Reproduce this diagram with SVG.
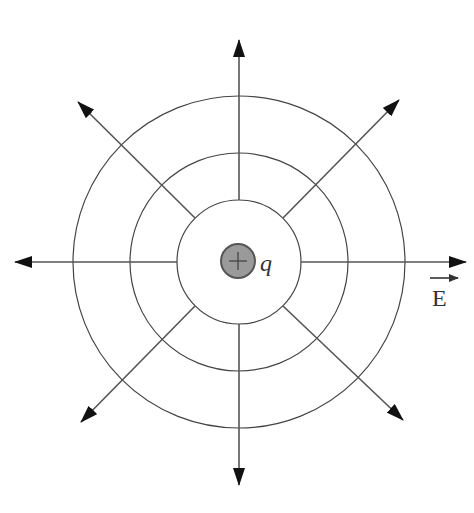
<svg xmlns="http://www.w3.org/2000/svg" width="474" height="513" viewBox="0 0 474 513">
<defs>
<marker id="ah" markerUnits="userSpaceOnUse" markerWidth="18" markerHeight="12" refX="17" refY="6" orient="auto">
<path d="M0,0 L18,6 L0,12 z" fill="#111"/>
</marker>
<marker id="sa" markerUnits="userSpaceOnUse" markerWidth="10" markerHeight="8" refX="9" refY="4" orient="auto">
<path d="M0,0 L10,4 L0,8 z" fill="#333"/>
</marker>
<style>
.ring{fill:none;stroke:#444;stroke-width:1.2}
.ray{stroke:#555;stroke-width:1.6;fill:none;marker-end:url(#ah)}
.lbl{font-family:"Liberation Serif",serif;fill:#333}
</style>
</defs>
<rect width="474" height="513" fill="#fff"/>
<g id="rings">
<circle class="ring" cx="239" cy="262" r="62"/>
<circle class="ring" cx="239" cy="262" r="109"/>
<circle class="ring" cx="239" cy="262" r="166"/>
</g>
<g id="connectors">
<line class="ray" x1="239" y1="200" x2="239" y2="40"/>
<line class="ray" x1="239" y1="324" x2="239" y2="485"/>
<line class="ray" x1="177" y1="262" x2="15" y2="262"/>
<line class="ray" x1="301" y1="262" x2="466" y2="262"/>
<line class="ray" x1="195" y1="218" x2="78" y2="102"/>
<line class="ray" x1="283" y1="218" x2="399" y2="100"/>
<line class="ray" x1="195" y1="306" x2="81" y2="422"/>
<line class="ray" x1="283" y1="306" x2="403" y2="420"/>
</g>
<g id="charge">
<circle cx="238" cy="261" r="17" fill="#9a9a9a" stroke="#555" stroke-width="2"/>
<line x1="229" y1="261" x2="247" y2="261" stroke="#444" stroke-width="1.3"/>
<line x1="238" y1="252" x2="238" y2="270" stroke="#444" stroke-width="1.3"/>
<text class="lbl" x="260" y="271" font-size="24" font-style="italic">q</text>
</g>
<g id="field-label">
<line x1="430" y1="278" x2="458" y2="278" stroke="#333" stroke-width="1.6" marker-end="url(#sa)"/>
<text class="lbl" x="432" y="306" font-size="24">E</text>
</g>
</svg>
